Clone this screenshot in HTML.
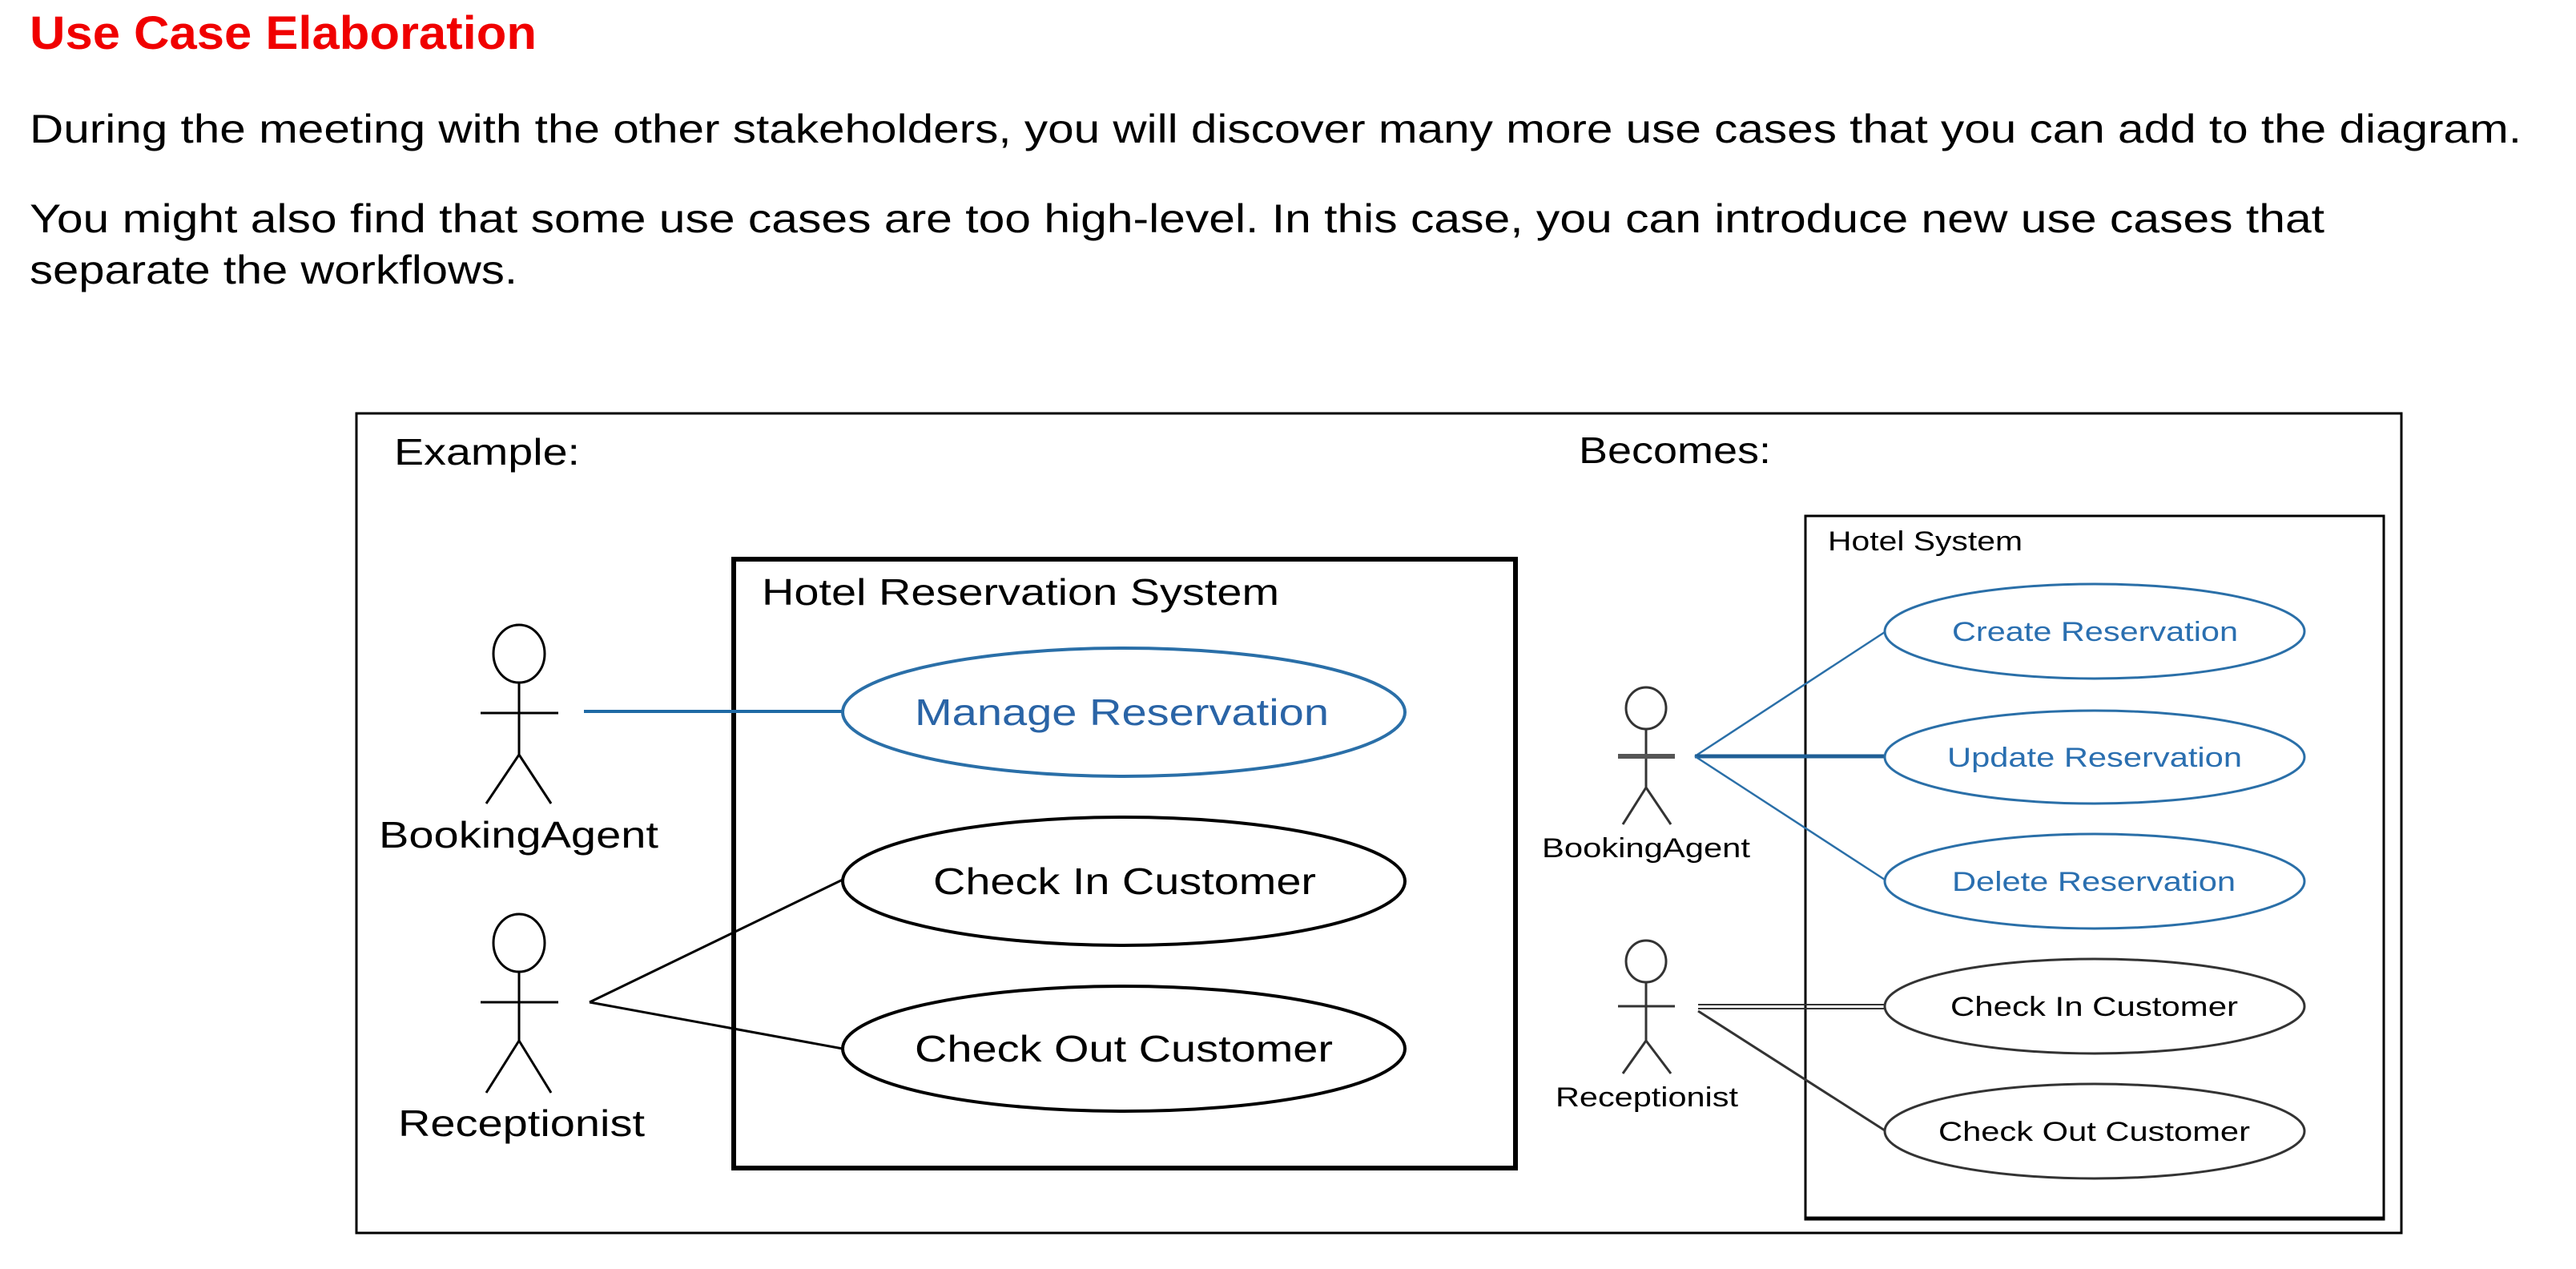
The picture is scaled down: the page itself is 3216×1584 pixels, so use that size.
<!DOCTYPE html>
<html><head><meta charset="utf-8"><style>
html,body{margin:0;padding:0;background:#fff;}
svg{display:block;}
text{font-family:"Liberation Sans",Arial,sans-serif;}
</style></head><body>
<svg width="3216" height="1584" viewBox="0 0 3216 1584" xmlns="http://www.w3.org/2000/svg">
<rect width="3216" height="1584" fill="#fff"/>
<text x="37" y="61" font-size="58" font-weight="bold" fill="#f00000" textLength="633" lengthAdjust="spacingAndGlyphs">Use Case Elaboration</text>
<text x="37" y="178" font-size="50" fill="#000" textLength="3111" lengthAdjust="spacingAndGlyphs">During the meeting with the other stakeholders, you will discover many more use cases that you can add to the diagram.</text>
<text x="37" y="290" font-size="50" fill="#000" textLength="2865" lengthAdjust="spacingAndGlyphs">You might also find that some use cases are too high-level. In this case, you can introduce new use cases that</text>
<text x="37" y="354" font-size="50" fill="#000" textLength="609" lengthAdjust="spacingAndGlyphs">separate the workflows.</text>

<!-- outer frame -->
<rect x="445" y="516" width="2553" height="1023" fill="none" stroke="#000" stroke-width="3"/>

<!-- LEFT -->
<text x="492" y="580" font-size="46" fill="#000" textLength="232" lengthAdjust="spacingAndGlyphs">Example:</text>
<rect x="916" y="698" width="976" height="760" fill="none" stroke="#000" stroke-width="6"/>
<text x="951" y="755" font-size="46" fill="#000" textLength="646" lengthAdjust="spacingAndGlyphs">Hotel Reservation System</text>

<g stroke="#000" stroke-width="3" fill="none">
  <ellipse cx="648" cy="816" rx="32" ry="36"/>
  <line x1="648" y1="852" x2="648" y2="942"/>
  <line x1="600" y1="890" x2="697" y2="890"/>
  <line x1="648" y1="942" x2="607" y2="1003"/>
  <line x1="648" y1="942" x2="688" y2="1003"/>
  <ellipse cx="648" cy="1177" rx="32" ry="36"/>
  <line x1="648" y1="1213" x2="648" y2="1299"/>
  <line x1="600" y1="1251" x2="697" y2="1251"/>
  <line x1="648" y1="1299" x2="607" y2="1364"/>
  <line x1="648" y1="1299" x2="688" y2="1364"/>
  <line x1="736" y1="1251" x2="1052" y2="1098"/>
  <line x1="736" y1="1251" x2="1052" y2="1309"/>
  <ellipse cx="1403" cy="1100" rx="351" ry="80" stroke-width="4"/>
  <ellipse cx="1403" cy="1309" rx="351" ry="78" stroke-width="4"/>
</g>
<line x1="729" y1="888" x2="1052" y2="888" stroke="#1f6aa5" stroke-width="4"/>
<ellipse cx="1403" cy="889" rx="351" ry="80" fill="none" stroke="#2a6fa8" stroke-width="4"/>
<text x="1142" y="905" font-size="46" fill="#2a64a6" textLength="517" lengthAdjust="spacingAndGlyphs">Manage Reservation</text>
<text x="1165" y="1116" font-size="46" fill="#000" textLength="478" lengthAdjust="spacingAndGlyphs">Check In Customer</text>
<text x="1142" y="1325" font-size="46" fill="#000" textLength="522" lengthAdjust="spacingAndGlyphs">Check Out Customer</text>
<text x="473" y="1058" font-size="46" fill="#000" textLength="349" lengthAdjust="spacingAndGlyphs">BookingAgent</text>
<text x="497" y="1418" font-size="46" fill="#000" textLength="308" lengthAdjust="spacingAndGlyphs">Receptionist</text>

<!-- RIGHT -->
<text x="1971" y="578" font-size="46" fill="#000" textLength="240" lengthAdjust="spacingAndGlyphs">Becomes:</text>
<rect x="2254" y="644" width="722" height="878" fill="none" stroke="#000" stroke-width="3"/>
<line x1="2254" y1="1521" x2="2976" y2="1521" stroke="#000" stroke-width="5"/>
<text x="2282" y="687" font-size="34" fill="#000" textLength="243" lengthAdjust="spacingAndGlyphs">Hotel System</text>

<g stroke="#333" stroke-width="3" fill="none">
  <ellipse cx="2055" cy="884" rx="25" ry="26"/>
  <line x1="2055" y1="910" x2="2055" y2="983"/>
  <line x1="2055" y1="983" x2="2026" y2="1029"/>
  <line x1="2055" y1="983" x2="2086" y2="1029"/>
  <ellipse cx="2055" cy="1200" rx="25" ry="26"/>
  <line x1="2055" y1="1226" x2="2055" y2="1299"/>
  <line x1="2020" y1="1256" x2="2091" y2="1256"/>
  <line x1="2055" y1="1299" x2="2026" y2="1340"/>
  <line x1="2055" y1="1299" x2="2086" y2="1340"/>
  <line x1="2120" y1="1254" x2="2353" y2="1254" stroke-width="2"/>
  <line x1="2120" y1="1259" x2="2353" y2="1259" stroke-width="2"/>
  <line x1="2120" y1="1262" x2="2353" y2="1411"/>
  <ellipse cx="2615" cy="1256" rx="262" ry="59"/>
  <ellipse cx="2615" cy="1412" rx="262" ry="59"/>
</g>
<line x1="2020" y1="944" x2="2091" y2="944" stroke="#555" stroke-width="6"/>
<g stroke="#2a6fa8" fill="none">
  <line x1="2116" y1="944" x2="2353" y2="789" stroke-width="2.5"/>
  <line x1="2116" y1="944" x2="2353" y2="944" stroke-width="5" stroke="#1f5f96"/>
  <line x1="2116" y1="944" x2="2353" y2="1098" stroke-width="2.5"/>
  <ellipse cx="2615" cy="788" rx="262" ry="59" stroke-width="3"/>
  <ellipse cx="2615" cy="945" rx="262" ry="58" stroke-width="3"/>
  <ellipse cx="2615" cy="1100" rx="262" ry="59" stroke-width="3"/>
</g>
<g font-size="34">
<text x="2437" y="800" fill="#2a6fb0" textLength="357" lengthAdjust="spacingAndGlyphs">Create Reservation</text>
<text x="2431" y="957" fill="#2a6fb0" textLength="368" lengthAdjust="spacingAndGlyphs">Update Reservation</text>
<text x="2437" y="1112" fill="#2a6fb0" textLength="354" lengthAdjust="spacingAndGlyphs">Delete Reservation</text>
<text x="2435" y="1268" fill="#000" textLength="359" lengthAdjust="spacingAndGlyphs">Check In Customer</text>
<text x="2420" y="1424" fill="#000" textLength="389" lengthAdjust="spacingAndGlyphs">Check Out Customer</text>
<text x="1925" y="1070" fill="#000" textLength="260" lengthAdjust="spacingAndGlyphs">BookingAgent</text>
<text x="1942" y="1381" fill="#000" textLength="228" lengthAdjust="spacingAndGlyphs">Receptionist</text>
</g>
</svg>
</body></html>
